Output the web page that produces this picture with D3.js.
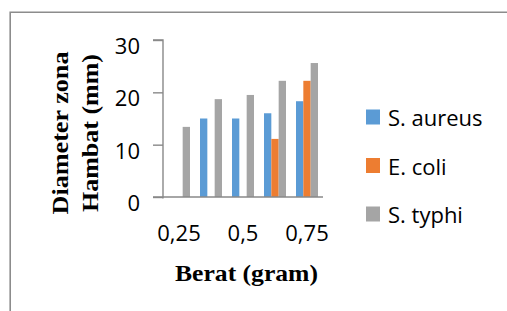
<!DOCTYPE html>
<html>
<head>
<meta charset="utf-8">
<script src="https://cdn.jsdelivr.net/npm/d3@7"></script>
<style>
  body { margin: 0; background: #fff; }
  svg { display: block; }
</style>
</head>
<body>
<svg id="chart" width="507" height="311"></svg>
<script>
// data
var categories = ["0,25", "0,375", "0,5", "0,625", "0,75"];
var seriesNames = ["S. aureus", "E. coli", "S. typhi"];
var aureus = [0, 15, 15, 16, 18.3];
var coli = [0, 0, 0, 11.1, 22.2];
var typhi = [13.4, 18.7, 19.5, 22.2, 25.6];
var yTicks = [0, 10, 20, 30];

var COLORS = ["#5b9bd5", "#ed7d31", "#a5a5a5"];
var AXIS_COLOR = "#898989";
var NUM_FONT = "'Open Sans', sans-serif";
var TITLE_FONT = "'Liberation Serif', 'Times New Roman', serif";

var svg = d3.select("#chart");

// frame round the chart
svg.append("path")
  .attr("d", "M10.2,311 V12.25 H507")
  .attr("fill", "none")
  .attr("stroke", "#8c8c8c")
  .attr("stroke-width", 1.6);

var x = d3.scaleBand()
  .domain(categories)
  .range([163, 323])
  .paddingInner(0.3125)
  .paddingOuter(0.15625);

var x1 = d3.scaleBand()
  .domain(seriesNames)
  .range([0, x.bandwidth()]);

var y = d3.scaleLinear()
  .domain([0, 30])
  .range([197, 40]);

var values = [aureus, coli, typhi];
var rows = [];
categories.forEach(function(c, i) {
  seriesNames.forEach(function(s, j) {
    if (values[j][i] > 0) {
      rows.push({ cat: c, series: s, value: values[j][i], color: COLORS[j] });
    }
  });
});

svg.append("g")
  .selectAll("rect")
  .data(rows)
  .enter()
  .append("rect")
    .attr("x", function(d) { return x(d.cat) + x1(d.series); })
    .attr("y", function(d) { return y(d.value); })
    .attr("width", x1.bandwidth())
    .attr("height", function(d) { return y(0) - y(d.value); })
    .attr("fill", function(d) { return d.color; });

// y axis
var yAxis = svg.append("g")
  .attr("transform", "translate(163,0)")
  .call(d3.axisLeft(y).tickValues(yTicks).tickSize(10).tickPadding(13));
yAxis.select(".domain").attr("stroke", AXIS_COLOR).attr("stroke-width", 1.4)
  .attr("d", "M-10," + y(30) + "H0V" + (y(0) + 1.5));
yAxis.selectAll(".tick line").attr("stroke", AXIS_COLOR).attr("stroke-width", 1.4);
yAxis.selectAll(".tick text")
  .attr("font-family", NUM_FONT)
  .attr("font-size", 22)
  .attr("dy", "0.62em")
  .attr("fill", "#000");

// x axis, only every other label shows
var xAxis = svg.append("g")
  .attr("transform", "translate(0," + y(0) + ")")
  .call(d3.axisBottom(x)
    .tickValues(categories.filter(function(d, i) { return i % 2 === 0; }))
    .tickSize(0)
    .tickPadding(28));
xAxis.select(".domain").attr("stroke", AXIS_COLOR).attr("stroke-width", 1.4)
  .attr("d", "M153,0H323");
xAxis.selectAll(".tick text")
  .attr("font-family", NUM_FONT)
  .attr("font-size", 22)
  .attr("fill", "#000");

// axis titles
svg.append("text")
  .attr("x", 246.5)
  .attr("y", 281)
  .attr("text-anchor", "middle")
  .attr("font-family", TITLE_FONT)
  .attr("font-weight", "bold")
  .attr("font-size", 23)
  .attr("textLength", 143)
  .attr("lengthAdjust", "spacingAndGlyphs")
  .text("Berat (gram)");

var yTitle = svg.append("text")
  .attr("transform", "translate(0,133) rotate(-90)")
  .attr("text-anchor", "middle")
  .attr("font-family", TITLE_FONT)
  .attr("font-weight", "bold")
  .attr("font-size", 23);
yTitle.append("tspan")
  .attr("x", 0).attr("y", 68)
  .attr("textLength", 163)
  .attr("lengthAdjust", "spacingAndGlyphs")
  .text("Diameter  zona");
yTitle.append("tspan")
  .attr("x", 0).attr("y", 97.5)
  .attr("textLength", 158)
  .attr("lengthAdjust", "spacingAndGlyphs")
  .text("Hambat  (mm)");

// legend
var legend = svg.append("g")
  .selectAll("g")
  .data(seriesNames)
  .enter()
  .append("g")
    .attr("transform", function(d, i) { return "translate(366," + (109.5 + i * 48.5) + ")"; });
legend.append("rect")
  .attr("width", 14)
  .attr("height", 15)
  .attr("fill", function(d, i) { return COLORS[i]; });
legend.append("text")
  .attr("x", 22)
  .attr("y", 16.5)
  .attr("font-family", NUM_FONT)
  .attr("font-size", 22)
  .attr("fill", "#000")
  .text(function(d) { return d; });
</script>
</body>
</html>
